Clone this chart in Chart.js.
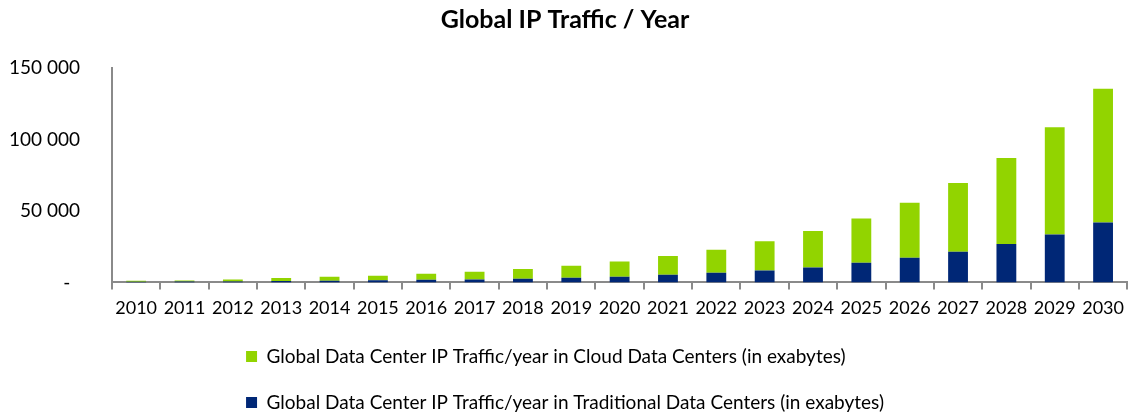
<!DOCTYPE html>
<html>
<head>
<meta charset="utf-8">
<style>
  html, body { margin: 0; padding: 0; background: #fff; }
  #wrap { width: 1132px; height: 416px; }
</style>
</head>
<body>
<div id="wrap"><canvas id="trafficChart"></canvas></div>
<script src="https://cdn.jsdelivr.net/npm/chart.js"></script>
<script>
const years = ['2010', '2011', '2012', '2013', '2014', '2015', '2016', '2017', '2018', '2019', '2020',
  '2021', '2022', '2023', '2024', '2025', '2026', '2027', '2028', '2029', '2030'];
// exabytes
const traditional = [500, 700, 700, 1000, 1200, 1500, 1800, 2100, 2600, 3300, 4000,
  5400, 6800, 8300, 10500, 13700, 17200, 21400, 26800, 33500, 41900];
const cloud = [600, 700, 1400, 2000, 2800, 3200, 4300, 5400, 6700, 8300, 10700,
  13000, 16000, 20500, 25400, 31000, 38600, 48200, 60200, 75100, 93500];
const yTicks = [0, 50000, 100000, 150000];

(() => {
  const font = 'Lato';
  const axisGrey = '#8a8a8a';

  // keep both legend rows starting at the same x
  const legendAlign = {
    id: 'legendAlign',
    afterLayout(chart) {
      const lg = chart.legend;
      if (!lg || !lg.lineWidths) return;
      const m = Math.max(...lg.lineWidths);
      lg.lineWidths = lg.lineWidths.map(() => m);
    }
  };

  new Chart(document.getElementById('trafficChart'), {
    type: 'bar',
    data: {
      labels: years,
      datasets: [{
        label: 'Global Data Center IP Traffic/year in Traditional Data Centers (in exabytes)',
        data: traditional,
        backgroundColor: '#002776'
      }, {
        label: 'Global Data Center IP Traffic/year in Cloud Data Centers (in exabytes)',
        data: cloud,
        backgroundColor: '#92d400'
      }]
    },
    plugins: [legendAlign],
    options: {
      responsive: true,
      maintainAspectRatio: false,
      animation: false,
      layout: { padding: { left: 0, right: 2, top: 5, bottom: -6 } },
      datasets: {
        bar: { categoryPercentage: 1, barPercentage: 0.41 }
      },
      plugins: {
        title: {
          display: true,
          text: 'Global IP Traffic / Year',
          color: '#000',
          font: { family: font, size: 25, weight: 'bold' },
          padding: { top: 0, bottom: 33 }
        },
        legend: {
          position: 'bottom',
          reverse: true,
          labels: {
            color: '#000',
            font: { family: font, size: 19 },
            boxWidth: 11,
            boxHeight: 11,
            padding: 27
          }
        },
        tooltip: { enabled: false }
      },
      scales: {
        x: {
          stacked: true,
          afterFit(s) { s.height -= 7; },
          border: { color: axisGrey, width: 2 },
          grid: { display: true, drawOnChartArea: false, color: axisGrey, lineWidth: 2, tickLength: 7 },
          ticks: { color: '#000', font: { family: font, size: 18 }, maxRotation: 0, padding: 8 }
        },
        y: {
          stacked: true,
          min: 0,
          max: 150000,
          afterFit(s) { s.width = 112; },
          afterBuildTicks(s) { s.ticks = yTicks.map(v => ({ value: v })); },
          border: { color: axisGrey, width: 2 },
          grid: { display: false, drawTicks: false },
          ticks: {
            color: '#000',
            padding: 32,
            font: { family: font, size: 19 },
            callback: v => v === 0 ? '-  ' : String(v).replace(/\B(?=(\d{3})+(?!\d))/g, ' ')
          }
        }
      }
    }
  });
})();
</script>
</body>
</html>
